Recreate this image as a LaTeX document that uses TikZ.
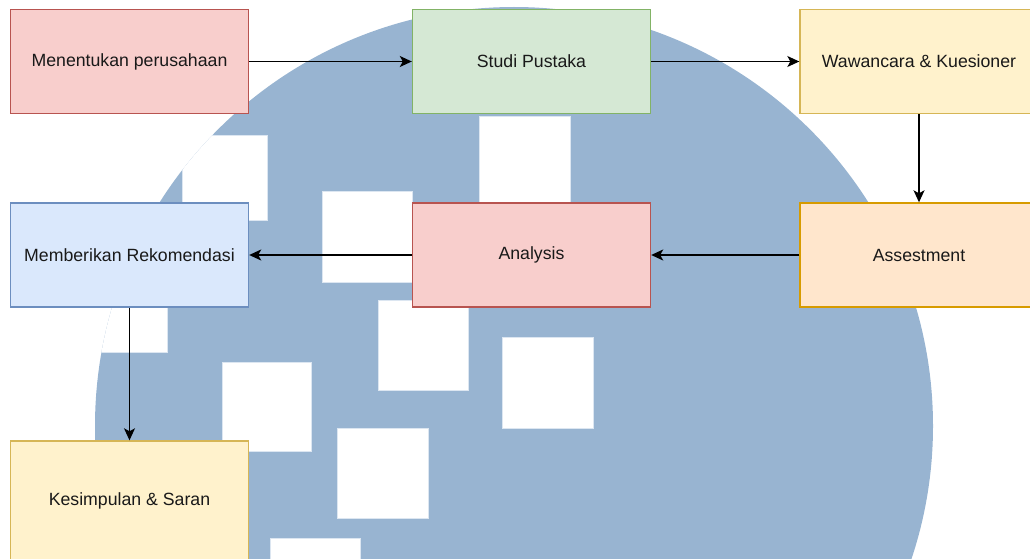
\documentclass[tikz,border=0pt]{standalone}
\usepackage{fontspec}
\setmainfont{Liberation Sans}
\usetikzlibrary{arrows.meta}
\definecolor{redfill}{HTML}{F8CECC}\definecolor{redline}{HTML}{B85450}
\definecolor{greenfill}{HTML}{D5E8D4}\definecolor{greenline}{HTML}{82B366}
\definecolor{yellowfill}{HTML}{FFF2CC}\definecolor{yellowline}{HTML}{D6B656}
\definecolor{orangefill}{HTML}{FFE6CC}\definecolor{orangeline}{HTML}{D79B00}
\definecolor{bluefill}{HTML}{DAE8FC}\definecolor{blueline}{HTML}{6C8EBF}
\definecolor{bgblue}{HTML}{98B4D1}
\definecolor{sqedge}{HTML}{DCE6F1}
\tikzset{
  box/.style={draw, line width=1.4pt, minimum width=238pt, minimum height=104pt,
    inner sep=0pt, font=\fontsize{17.7}{21}\selectfont, text=black!90},
  redbox/.style={box, fill=redfill, draw=redline},
  greenbox/.style={box, fill=greenfill, draw=greenline},
  yellowbox/.style={box, fill=yellowfill, draw=yellowline},
  orangebox/.style={box, fill=orangefill, draw=orangeline},
  bluebox/.style={box, fill=bluefill, draw=blueline},
  flow/.style={line width=1.4pt, black, -{Stealth[length=12pt,width=11pt,inset=3pt]}},
  sq/.style={fill=white, draw=sqedge, line width=0.6pt}
}
\begin{document}
\begin{tikzpicture}[x=1pt,y=-1pt]
\useasboundingbox (0,0) rectangle (1030,559);
\clip (0,0) rectangle (1030,559);
% background logo
\fill[bgblue] (514,426) circle[radius=419];
\begin{scope}
\clip (514,426) circle[radius=419];
\draw[sq] (182,135) rectangle (267,220);
\draw[sq] (77,262) rectangle (167,352);
\draw[sq] (322,191) rectangle (412,282);
\draw[sq] (479,116) rectangle (570,207);
\draw[sq] (378,300) rectangle (468,390);
\draw[sq] (502,337) rectangle (593,428);
\draw[sq] (222,362) rectangle (311,451);
\draw[sq] (337,428) rectangle (428,518);
\draw[sq] (270,538) rectangle (360,628);
\end{scope}
% boxes
\node[redbox] (m1) at (129.5,61.5) {Menentukan perusahaan};
\node[greenbox] (s2) at (531.5,61.5) {Studi Pustaka};
\node[yellowbox] (w3) at (919,61.5) {Wawancara \& Kuesioner};
\node[orangebox] (a4) at (919,255) {Assestment};
\node[redbox] (an) at (531.5,255) {Analysis};
\node[bluebox] (mr) at (129.5,255) {Memberikan Rekomendasi};
\node[yellowbox, minimum height=120pt] (ks) at (129.5,501) {Kesimpulan \& Saran};
% connectors
\draw[flow] (m1) -- (s2);
\draw[flow] (s2) -- (w3);
\draw[flow] (w3) -- (a4);
\draw[flow] (a4) -- (an);
\draw[flow] (an) -- (mr);
\draw[flow] (mr) -- (ks);
\end{tikzpicture}
\end{document}
